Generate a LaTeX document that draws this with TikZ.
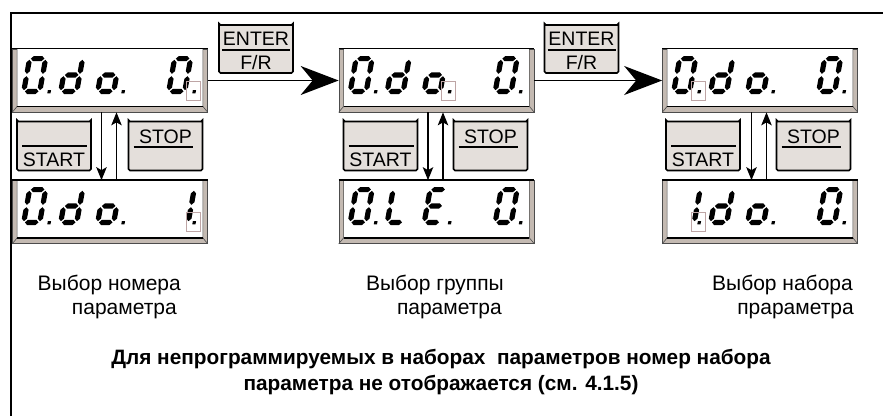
\documentclass[tikz,border=0pt]{standalone}
\usepackage{fontspec}
\setmainfont{Liberation Sans}
\usetikzlibrary{shapes.misc,arrows.meta}
\definecolor{bevel}{RGB}{196,186,178}
\definecolor{btnfill}{RGB}{228,223,219}
\definecolor{dotbox}{RGB}{190,165,165}
\newcommand\hseg[3]{\fill (#1,#3) -- ({#1+2.6},{#3-2.6}) -- ({#2-2.6},{#3-2.6}) -- (#2,#3) -- ({#2-2.6},{#3+2.6}) -- ({#1+2.6},{#3+2.6}) -- cycle;}
\newcommand\vseg[3]{\fill (#1,#2) -- ({#1+2.6},{#2+2.6}) -- ({#1+2.6},{#3-2.6}) -- (#1,#3) -- ({#1-2.6},{#3-2.6}) -- ({#1-2.6},{#2+2.6}) -- cycle;}
\newcommand\sgA{\hseg{3.8}{17.4}{2.6}}
\newcommand\sgB{\vseg{18.6}{3.8}{17.8}}
\newcommand\sgC{\vseg{18.6}{20.2}{34.2}}
\newcommand\sgD{\hseg{3.8}{17.4}{35.4}}
\newcommand\sgE{\vseg{2.6}{20.2}{34.2}}
\newcommand\sgF{\vseg{2.6}{3.8}{17.8}}
\newcommand\sgG{\hseg{3.8}{17.4}{19}}
\newcommand\sgP{\fill (26.5,34.2) rectangle (29.7,37.4);}
\newcommand\sevseg[3]{\begin{scope}[shift={(#1,#2)},xslant=0.18]\foreach \s in {#3}{\csname sg\s\endcsname}\end{scope}}
\newcommand\dotmark[2]{\draw[dotbox,line width=0.7pt] ({#1+13.5},{#2+25}) rectangle ({#1+27.5},{#2+44});}
\newcommand\dispbox[2]{%
  \node[disp] (#1) at (#2) {};
  \fill[white] ([xshift=5pt]#1.north west) rectangle ([xshift=-5pt,yshift=6pt]#1.south east);
  \draw[line width=0.6pt,black!70] ([xshift=5pt]#1.north west) -- ([xshift=5pt,yshift=6pt]#1.south west) -- (#1.south west);
  \draw[line width=0.6pt,black!70] ([xshift=-5pt]#1.north east) -- ([xshift=-5pt,yshift=6pt]#1.south east) -- (#1.south east);
  \draw[line width=1.5pt] ([xshift=5pt,yshift=6pt]#1.south west) -- ([xshift=-5pt,yshift=6pt]#1.south east);
  \draw[line width=1.4pt] (#1.north west) -- (#1.north east);
}
\begin{document}
\begin{tikzpicture}[x=1pt,y=-1pt,
  disp/.style={rectangle,minimum width=195pt,minimum height=63pt,inner sep=0pt,fill=bevel,draw=black!70,line width=0.7pt},
  btn/.style={chamfered rectangle,chamfered rectangle xsep=6pt,chamfered rectangle ysep=6pt,minimum width=74pt,minimum height=49pt,inner sep=0pt,fill=btnfill,draw=black,line width=1.6pt,rounded corners=1.5pt},
  btxt/.style={font=\fontsize{19.5}{22}\selectfont,inner sep=0pt},
  lbl/.style={font=\fontsize{21}{25}\selectfont,inner sep=0pt},
  note/.style={font=\fontsize{20.8}{24}\bfseries\selectfont,inner sep=0pt},
  bigarrow/.style={line width=1.6pt,-{Stealth[length=38pt,width=29pt,inset=12pt]}},
  smallarrow/.style={line width=1.2pt,-{Stealth[length=13pt,width=10.5pt,inset=3pt]}}]
\useasboundingbox (0,0) rectangle (883,416);
\draw[line width=2pt] (11,416) -- (11,12.8) -- (883,12.8);
% displays
\dispbox{d1t}{110,80.5}
\dispbox{d2t}{436.5,80.5}
\dispbox{d3t}{760,80.5}
\dispbox{d1b}{110,212}
\dispbox{d2b}{436.5,212}
\dispbox{d3b}{760,212}
% digits, top row
\sevseg{27.5}{56}{A,B,C,D,E,F,P}
\sevseg{64.5}{56}{B,C,D,E,G}
\sevseg{101.5}{56}{C,D,E,G,P}
\sevseg{172.5}{56}{A,B,C,D,E,F,P}
\dotmark{172.5}{56}
\sevseg{354}{56}{A,B,C,D,E,F,P}
\sevseg{391}{56}{B,C,D,E,G}
\sevseg{428}{56}{C,D,E,G,P}
\sevseg{499}{56}{A,B,C,D,E,F,P}
\dotmark{428}{56}
\sevseg{677.5}{56}{A,B,C,D,E,F,P}
\sevseg{714.5}{56}{B,C,D,E,G}
\sevseg{751.5}{56}{C,D,E,G,P}
\sevseg{822.5}{56}{A,B,C,D,E,F,P}
\dotmark{677.5}{56}
% digits, bottom row
\sevseg{27.5}{187}{A,B,C,D,E,F,P}
\sevseg{64.5}{187}{B,C,D,E,G}
\sevseg{101.5}{187}{C,D,E,G,P}
\sevseg{176}{187}{B,C}
\sevseg{172.5}{187}{P}
\dotmark{172.5}{187}
\sevseg{354}{187}{A,B,C,D,E,F,P}
\sevseg{391}{187}{D,E,F}
\sevseg{428}{187}{A,D,E,F,G,P}
\sevseg{499}{187}{A,B,C,D,E,F,P}
\sevseg{682}{187}{B,C}
\sevseg{677.5}{187}{P}
\sevseg{714.5}{187}{B,C,D,E,G}
\sevseg{751.5}{187}{C,D,E,G,P}
\sevseg{822.5}{187}{A,B,C,D,E,F,P}
\dotmark{677.5}{187}
% ENTER buttons
\node[btn,minimum height=48pt] (e1) at (256,49) {};
\node[btn,minimum height=48pt] (e2) at (581.5,49) {};
\foreach \e in {e1,e2}{
  \node[btxt] at ([yshift=10.5pt]\e.center) {ENTER};
  \node[btxt] at ([yshift=-14pt]\e.center) {F/R};
  \draw[line width=1.2pt] ([xshift=-34pt,yshift=-1pt]\e.center) -- ([xshift=34pt,yshift=-1pt]\e.center);
}
% START / STOP buttons
\node[btn] (s1) at (54,146) {};
\node[btn] (p1) at (165.5,146) {};
\node[btn] (s2) at (380.5,146) {};
\node[btn] (p2) at (490.5,146) {};
\node[btn] (s3) at (703,146) {};
\node[btn] (p3) at (813.5,146) {};
\foreach \s in {s1,s2,s3}{
  \draw[line width=1.2pt] ([xshift=-32pt]\s.center) -- ([xshift=33pt]\s.center);
  \node[btxt] at ([yshift=-13.5pt]\s.center) {START};
}
\foreach \p in {p1,p2,p3}{
  \draw[line width=1.2pt] ([xshift=-32pt,yshift=-1pt]\p.center) -- ([xshift=27pt,yshift=-1pt]\p.center);
  \node[btxt] at ([yshift=9pt]\p.center) {STOP};
}
% arrows
\draw[bigarrow] (d1t.east) -- (d2t.west);
\draw[bigarrow] (d2t.east) -- (d3t.west);
\foreach \c in {1,2,3}{
  \draw[smallarrow] ([xshift=-8.5pt]d\c t.south) -- ([xshift=-8.5pt]d\c b.north);
  \draw[smallarrow] ([xshift=6.5pt]d\c b.north) -- ([xshift=6.5pt]d\c t.south);
}
% labels
\node[lbl,anchor=base east] (l1a) at (181,290) {Выбор номера};
\node[lbl,anchor=base east] (l1b) at (177,314) {параметра};
\node[lbl,anchor=base east] (l2a) at (504,290) {Выбор группы};
\node[lbl,anchor=base east] (l2b) at (502,314) {параметра};
\node[lbl,anchor=base east] (l3a) at (853,290) {Выбор набора};
\node[lbl,anchor=base east] (l3b) at (854,314) {прараметра};
\node[note,anchor=base] (n1) at (441,364) {Для непрограммируемых в наборах\ \ параметров номер набора};
\node[note,anchor=base] (n2) at (441,390) {параметра не отображается (см. 4.1.5)};
\end{tikzpicture}
\end{document}
